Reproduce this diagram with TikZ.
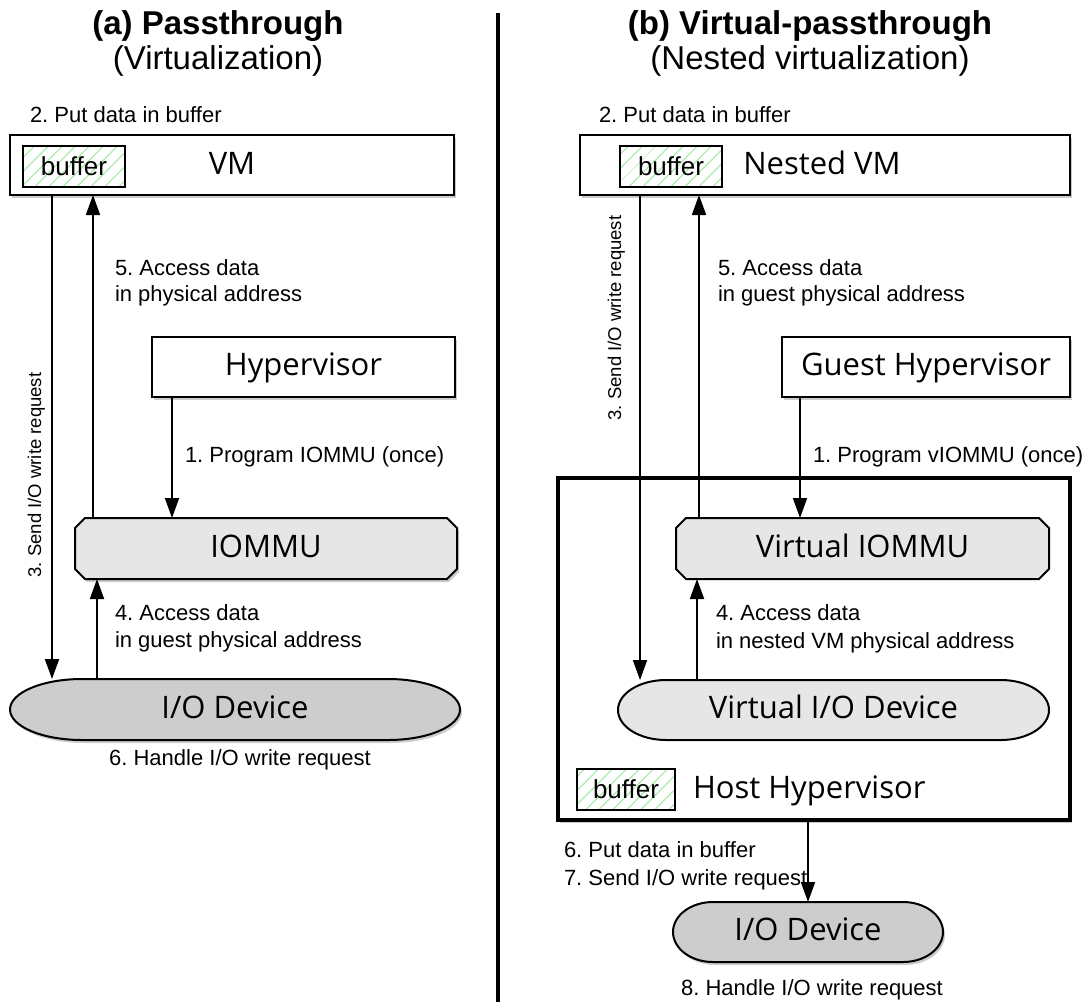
\documentclass[tikz,border=0pt]{standalone}
\usepackage{fontspec}
\setmainfont{Liberation Sans}
\newfontfamily\boxfont{Open Sans}
\usetikzlibrary{arrows.meta,patterns.meta}
\definecolor{hatch}{HTML}{86E486}
\definecolor{lightg}{HTML}{E6E6E6}
\definecolor{midg}{HTML}{CDCDCD}
\frenchspacing
\begin{document}
\begin{tikzpicture}[x=1pt,y=-1pt,
 every node/.style={inner sep=0pt, outer sep=0pt},
 shade/.style={preaction={fill=black, fill opacity=0.2, draw=none, transform canvas={xshift=2pt,yshift=-3pt}}},
 wbox/.style={draw, line width=2, fill=white, shade},
 buf/.style={draw, line width=1.6, pattern={Lines[angle=45,distance=10.5pt,line width=0.9pt]}, pattern color=hatch, font=\fontsize{26}{30}\selectfont},
 shp/.style={draw, line width=2, shade},
 lbl/.style={font=\boxfont\fontsize{31}{36}\selectfont, anchor=base},
 sm/.style={font=\fontsize{22}{26}\selectfont, anchor=base west},
 smc/.style={font=\fontsize{22}{26}\selectfont, anchor=base},
 rot/.style={font=\fontsize{18.5}{22}\selectfont, anchor=base, rotate=90},
 ttl/.style={font=\fontsize{33}{38}\selectfont, anchor=base},
 arr/.style={line width=1.8, -{Triangle[width=14pt,length=20pt]}},
]
\useasboundingbox (0,0) rectangle (1089,1002);

% titles
\node[ttl] (ta) at (218,34) {\bfseries (a) Passthrough};
\node[ttl] (tas) at (218,69) {(Virtualization)};
\node[ttl] (tb) at (810,34) {\bfseries (b) Virtual-passthrough};
\node[ttl] (tbs) at (810,69) {(Nested virtualization)};

% divider
\coordinate (dtop) at (498,13);
\coordinate (dbot) at (498,1002);
\draw[line width=4] (dtop) -- (dbot);

% ---------- left panel ----------
\node[wbox, minimum width=444, minimum height=60] (vm) at (232,165) {};
\node[buf, minimum width=102, minimum height=41] (vmbuf) at (74,166.5) {buffer};
\node[lbl] (vml) at (232,174) {VM};

\node[wbox, minimum width=303, minimum height=60] (hyp) at (303.5,367) {};
\node[lbl] (hypl) at (303.5,375) {Hypervisor};

\node[minimum width=382, minimum height=61] (iommu) at (266,548.5) {};
\draw[shp, fill=lightg] ([xshift=10pt]iommu.north west) -- ([xshift=-10pt]iommu.north east)
  -- ([yshift=-10pt]iommu.north east) -- ([yshift=10pt]iommu.south east)
  -- ([xshift=-10pt]iommu.south east) -- ([xshift=10pt]iommu.south west)
  -- ([yshift=10pt]iommu.south west) -- ([yshift=-10pt]iommu.north west) -- cycle;
\node[lbl] (iommul) at (266,557) {IOMMU};

\node[minimum width=450, minimum height=61] (iodev) at (235,709.5) {};
\draw[shp, fill=midg] ([xshift=72pt]iodev.north west) -- ([xshift=-72pt]iodev.north east)
  arc[start angle=90, end angle=-90, x radius=72pt, y radius=30.5pt]
  -- ([xshift=72pt]iodev.south west)
  arc[start angle=270, end angle=90, x radius=72pt, y radius=30.5pt] -- cycle;
\node[lbl] (iodevl) at (235,718) {I/O Device};

\coordinate (xa3) at (52,0);
\coordinate (xa5) at (93,0);
\coordinate (xa4) at (97,0);
\coordinate (xa1) at (172,0);
\draw[arr] (vm.south -| xa3) -- (iodev.north -| xa3);
\draw[arr] (iommu.north -| xa5) -- (vm.south -| xa5);
\draw[arr] (hyp.south -| xa1) -- (iommu.north -| xa1);
\draw[arr] (iodev.north -| xa4) -- (iommu.south -| xa4);

\node[sm] (s2a) at (30,122) {2. Put data in buffer};
\node[sm] (s5a) at (115,275) {5. Access data};
\node[sm] (s5a2) at (115,301) {in physical address};
\node[sm] (s1a) at (185,462) {1. Program IOMMU (once)};
\node[sm] (s4a) at (115,620) {4. Access data};
\node[sm] (s4a2) at (115,647) {in guest physical address};
\node[smc] (s6a) at (240,765) {6. Handle I/O write request};
\node[rot] (s3a) at (41,475) {3. Send I/O write request};

% ---------- right panel ----------
\node[wbox, minimum width=490, minimum height=60] (nvm) at (825,165) {};
\node[buf, minimum width=102, minimum height=41] (nvmbuf) at (671,166.5) {buffer};
\node[lbl] (nvml) at (822,174) {Nested VM};

\node[wbox, minimum width=288, minimum height=60] (ghyp) at (926,367) {};
\node[lbl] (ghypl) at (926,375) {Guest Hypervisor};

\node[wbox, line width=3.5, minimum width=512, minimum height=342] (host) at (814,649) {};
\node[buf, minimum width=98, minimum height=41] (hostbuf) at (626,789.5) {buffer};
\node[lbl, anchor=base west] (hostl) at (693,798) {Host Hypervisor};

\node[minimum width=373, minimum height=61] (viommu) at (862.5,548.5) {};
\draw[line width=2, fill=lightg] ([xshift=10pt]viommu.north west) -- ([xshift=-10pt]viommu.north east)
  -- ([yshift=-10pt]viommu.north east) -- ([yshift=10pt]viommu.south east)
  -- ([xshift=-10pt]viommu.south east) -- ([xshift=10pt]viommu.south west)
  -- ([yshift=10pt]viommu.south west) -- ([yshift=-10pt]viommu.north west) -- cycle;
\node[lbl] (viommul) at (862.5,557) {Virtual IOMMU};

\node[minimum width=431, minimum height=60] (viodev) at (833.5,710) {};
\draw[line width=2, fill=lightg] ([xshift=48pt]viodev.north west) -- ([xshift=-48pt]viodev.north east)
  arc[start angle=90, end angle=-90, x radius=48pt, y radius=30pt]
  -- ([xshift=48pt]viodev.south west)
  arc[start angle=270, end angle=90, x radius=48pt, y radius=30pt] -- cycle;
\node[lbl] (viodevl) at (833.5,718) {Virtual I/O Device};

\node[minimum width=270, minimum height=60] (io2) at (808,932) {};
\draw[shp, fill=midg] ([xshift=40pt]io2.north west) -- ([xshift=-40pt]io2.north east)
  arc[start angle=90, end angle=-90, x radius=40pt, y radius=30pt]
  -- ([xshift=40pt]io2.south west)
  arc[start angle=270, end angle=90, x radius=40pt, y radius=30pt] -- cycle;
\node[lbl] (io2l) at (808,940) {I/O Device};

\coordinate (xb3) at (640,0);
\coordinate (xb5) at (699,0);
\coordinate (xb4) at (697,0);
\coordinate (xb1) at (800,0);
\coordinate (xb6) at (808,0);
\draw[arr] (nvm.south -| xb3) -- (viodev.north -| xb3);
\draw[arr] (viommu.north -| xb5) -- (nvm.south -| xb5);
\draw[arr] (ghyp.south -| xb1) -- (viommu.north -| xb1);
\draw[arr] (viodev.north -| xb4) -- (viommu.south -| xb4);
\draw[arr] (host.south -| xb6) -- (io2.north -| xb6);

\node[sm] (s2b) at (599,122) {2. Put data in buffer};
\node[sm] (s5b) at (718,275) {5. Access data};
\node[sm] (s5b2) at (718,301) {in guest physical address};
\node[sm] (s1b) at (813,462) {1. Program vIOMMU (once)};
\node[sm] (s4b) at (716,620) {4. Access data};
\node[sm] (s4b2) at (716,648) {in nested VM physical address};
\node[rot] (s3b) at (621,318) {3. Send I/O write request};
\node[sm] (s6b) at (564,857) {6. Put data in buffer};
\node[sm] (s7b) at (564,885) {7. Send I/O write request};
\node[smc] (s8b) at (812,995) {8. Handle I/O write request};
\end{tikzpicture}
\end{document}
